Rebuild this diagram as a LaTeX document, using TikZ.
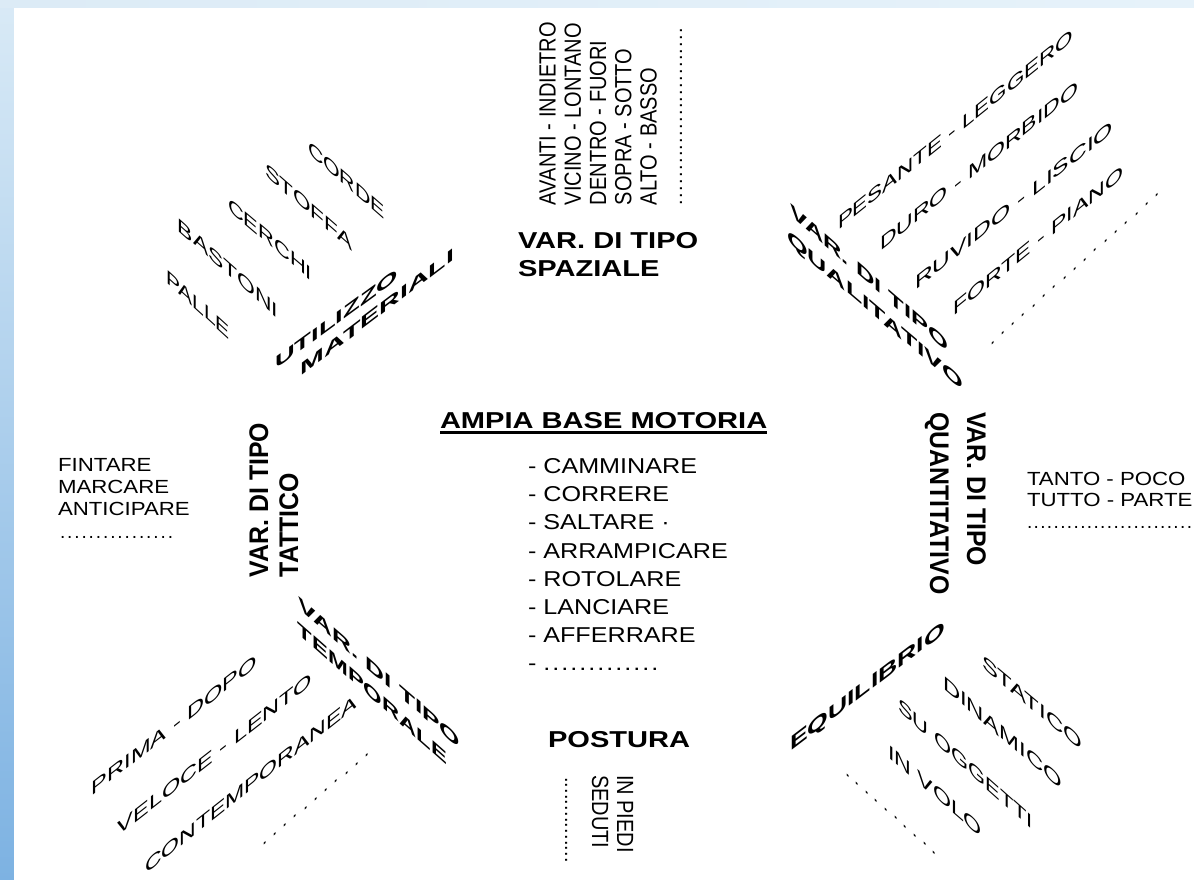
\documentclass[tikz,border=0pt]{standalone}
\usepackage{fontspec}
\usepackage{graphicx}
\setmainfont{Liberation Sans}
\newfontfamily\hdfont{Liberation Sans}[FakeStretch=1.08]
\usetikzlibrary{calc}

\definecolor{frameTop}{HTML}{D9EAF6}
\definecolor{frameBot}{HTML}{7DB2E2}
\definecolor{bandLeft}{HTML}{DCEBF6}
\definecolor{bandRight}{HTML}{E6F2FA}

% a row of n evenly spread dots, #2 wide
\newcommand\dotrow[2]{\hbox to #2{.\foreach \k in {2,...,#1}{\hfill.}}}

% slanted label spanning the corners (#2,#3) and (#4,#5), cap height #6
\newcommand\slantlabel[7]{%
  \pgfmathsetmacro\sldx{#4-#2}%
  \pgfmathsetmacro\slrise{#3-#5}%
  \pgfmathsetmacro\slt{(\slrise-sign(\slrise)*#6/2)/\sldx}%
  \node[diagtext, yslant=\slt] (#1) at ({(#2+#4)/2},{(#3+#5)/2})
    {\resizebox{\sldx pt}{#6pt}{#7}};%
}
% slanted dotted row from (#2,#3) to (#4,#5), #6 dots
\newcommand\slantdots[6]{%
  \pgfmathsetmacro\sldx{#4-#2}%
  \pgfmathsetmacro\slt{(#3-#5)/\sldx}%
  \node[diagtext, yslant=\slt] (#1) at ({(#2+#4)/2},{(#3+#5)/2})
    {\dotrow{#6}{\sldx pt}};%
}

\begin{document}
\begin{tikzpicture}[x=1pt, y=-1pt,
  every node/.style={inner sep=0pt, outer sep=0pt},
  txt/.style={font=\fontsize{#1}{#1}\selectfont, anchor=base west},
  htx/.style={txt=#1, xscale=1.17},
  vup/.style={txt=#1, rotate=90, yscale=1.17},
  vdn/.style={txt=#1, rotate=-90, yscale=1.17},
  hd/.style={font=\hdfont\bfseries\fontsize{23}{27}\selectfont, anchor=base west},
  hhd/.style={hd, xscale=1.17},
  vhdup/.style={hd, rotate=90, yscale=1.17},
  vhddn/.style={hd, rotate=-90, yscale=1.17},
  diagtext/.style={anchor=center, font=\fontsize{19}{21}\selectfont}]

\useasboundingbox (0,0) rectangle (1194,880);

% frame and page
\shade[top color=frameTop, bottom color=frameBot] (0,0) rectangle (14,880);
\shade[left color=bandLeft, right color=bandRight] (0,0) rectangle (1194,8);
\fill[white] (14,8) rectangle (1194,880);

% central block
\node[hhd] (title) at (440,428) {AMPIA BASE MOTORIA};
\draw[line width=2.2pt] ($(title.base west)+(0,4.5)$) -- ($(title.base east)+(0,4.5)$);

\node[htx=21.5] (m1) at (528,473.5) {- CAMMINARE};
\node[htx=21.5] (m2) at (528,501.7) {- CORRERE};
\node[htx=21.5] (m3) at (528,529.9) {- SALTARE ·};
\node[htx=21.5] (m4) at (528,558.1) {- ARRAMPICARE};
\node[htx=21.5] (m5) at (528,586.3) {- ROTOLARE};
\node[htx=21.5] (m6) at (528,614.5) {- LANCIARE};
\node[htx=21.5] (m7) at (528,642.7) {- AFFERRARE};
\node[htx=21.5] (m8) at (528,670.9) {- \dotrow{13}{98.3pt}};

% spatial variations (top)
\node[hhd] (sp1) at (518,248) {VAR. DI TIPO};
\node[hhd] (sp2) at (518,276.5) {SPAZIALE};
\node[vup=20] (s1) at (555.5,205) {AVANTI - INDIETRO};
\node[vup=20] (s2) at (580.8,205) {VICINO - LONTANO};
\node[vup=20] (s3) at (606.1,205) {DENTRO - FUORI};
\node[vup=20] (s4) at (631.4,205) {SOPRA - SOTTO};
\node[vup=20] (s5) at (656.7,205) {ALTO - BASSO};
\node[txt=20, rotate=90] (s6) at (682,205) {\dotrow{26}{177pt}};

% tactical variations (left)
\node[vhdup] (tt1) at (268,577) {VAR. DI TIPO};
\node[vhdup] (tt2) at (298,577) {TATTICO};
\node[htx=19] (l1) at (58,471.7) {FINTARE};
\node[htx=19] (l2) at (58,493.3) {MARCARE};
\node[htx=19] (l3) at (58,515) {ANTICIPARE};
\node[txt=19] (l4) at (60,538.5) {\dotrow{16}{113pt}};

% quantitative variations (right)
\node[vhddn] (qn1) at (967,412) {VAR. DI TIPO};
\node[vhddn] (qn2) at (930,412) {QUANTITATIVO};
\node[htx=19] (r1) at (1027,485) {TANTO - POCO};
\node[htx=19] (r2) at (1027,506.7) {TUTTO - PARTE};
\node[txt=19] (r3) at (1027,528) {\dotrow{25}{165pt}};

% posture (bottom)
\node[hhd] (po) at (548,747) {POSTURA};
\node[vdn=20] (p1) at (617,775) {IN PIEDI};
\node[vdn=20] (p2) at (592,775) {SEDUTI};
\node[txt=20, rotate=-90] (p3) at (565,777) {\dotrow{15}{86pt}};

% use of equipment (upper left)
\slantlabel{mh1}{275}{367}{398}{271}{12}{\bfseries UTILIZZO}
\slantlabel{mh2}{301}{373}{454}{251}{12}{\bfseries MATERIALI}
\slantlabel{mt1}{308}{143}{385}{217}{13.5}{CORDE}
\slantlabel{mt2}{265}{165}{352}{248}{13.5}{STOFFA}
\slantlabel{mt3}{228}{200}{312}{278}{13.5}{CERCHI}
\slantlabel{mt4}{178}{220}{278}{316}{13.5}{BASTONI}
\slantlabel{mt5}{166}{272}{230}{337}{13.5}{PALLE}

% qualitative variations (upper right)
\slantlabel{ql1}{790}{206}{948}{350}{12.5}{\bfseries VAR. DI TIPO}
\slantlabel{ql2}{787}{234}{963}{390}{12.5}{\bfseries QUALITATIVO}
\slantlabel{qi1}{838}{227}{1073}{32}{13.5}{PESANTE - LEGGERO}
\slantlabel{qi2}{880}{248}{1078}{83}{13.5}{DURO - MORBIDO}
\slantlabel{qi3}{915}{287}{1113}{123}{13.5}{RUVIDO - LISCIO}
\slantlabel{qi4}{953}{313}{1123}{168}{13.5}{FORTE - PIANO}
\slantdots{qi5}{990}{345}{1160}{193}{17}

% temporal variations (lower left)
\slantlabel{tm1}{298}{599}{460}{746}{12.5}{\bfseries VAR. DI TIPO}
\slantlabel{tm2}{298}{624}{447}{762}{12.5}{\bfseries TEMPORALE}
\slantlabel{ti1}{92}{793}{257}{657}{13.5}{PRIMA - DOPO}
\slantlabel{ti2}{118}{833}{312}{675}{13.5}{VELOCE - LENTO}
\slantlabel{ti3}{145}{871}{357}{697}{13.5}{CONTEMPORANEA}
\slantdots{ti4}{262}{845}{370}{753}{11}

% balance (lower right)
\slantlabel{eq}{790}{750}{945}{625}{14}{\bfseries EQUILIBRIO}
\slantlabel{ei1}{982}{657}{1082}{748}{13.5}{STATICO}
\slantlabel{ei2}{943}{678}{1062}{787}{13.5}{DINAMICO}
\slantlabel{ei3}{898}{700}{1033}{827}{13.5}{SU OGGETTI}
\slantlabel{ei4}{888}{747}{982}{835}{13.5}{IN VOLO}
\slantdots{ei5}{845}{773}{937}{855}{10}
\end{tikzpicture}
\end{document}
